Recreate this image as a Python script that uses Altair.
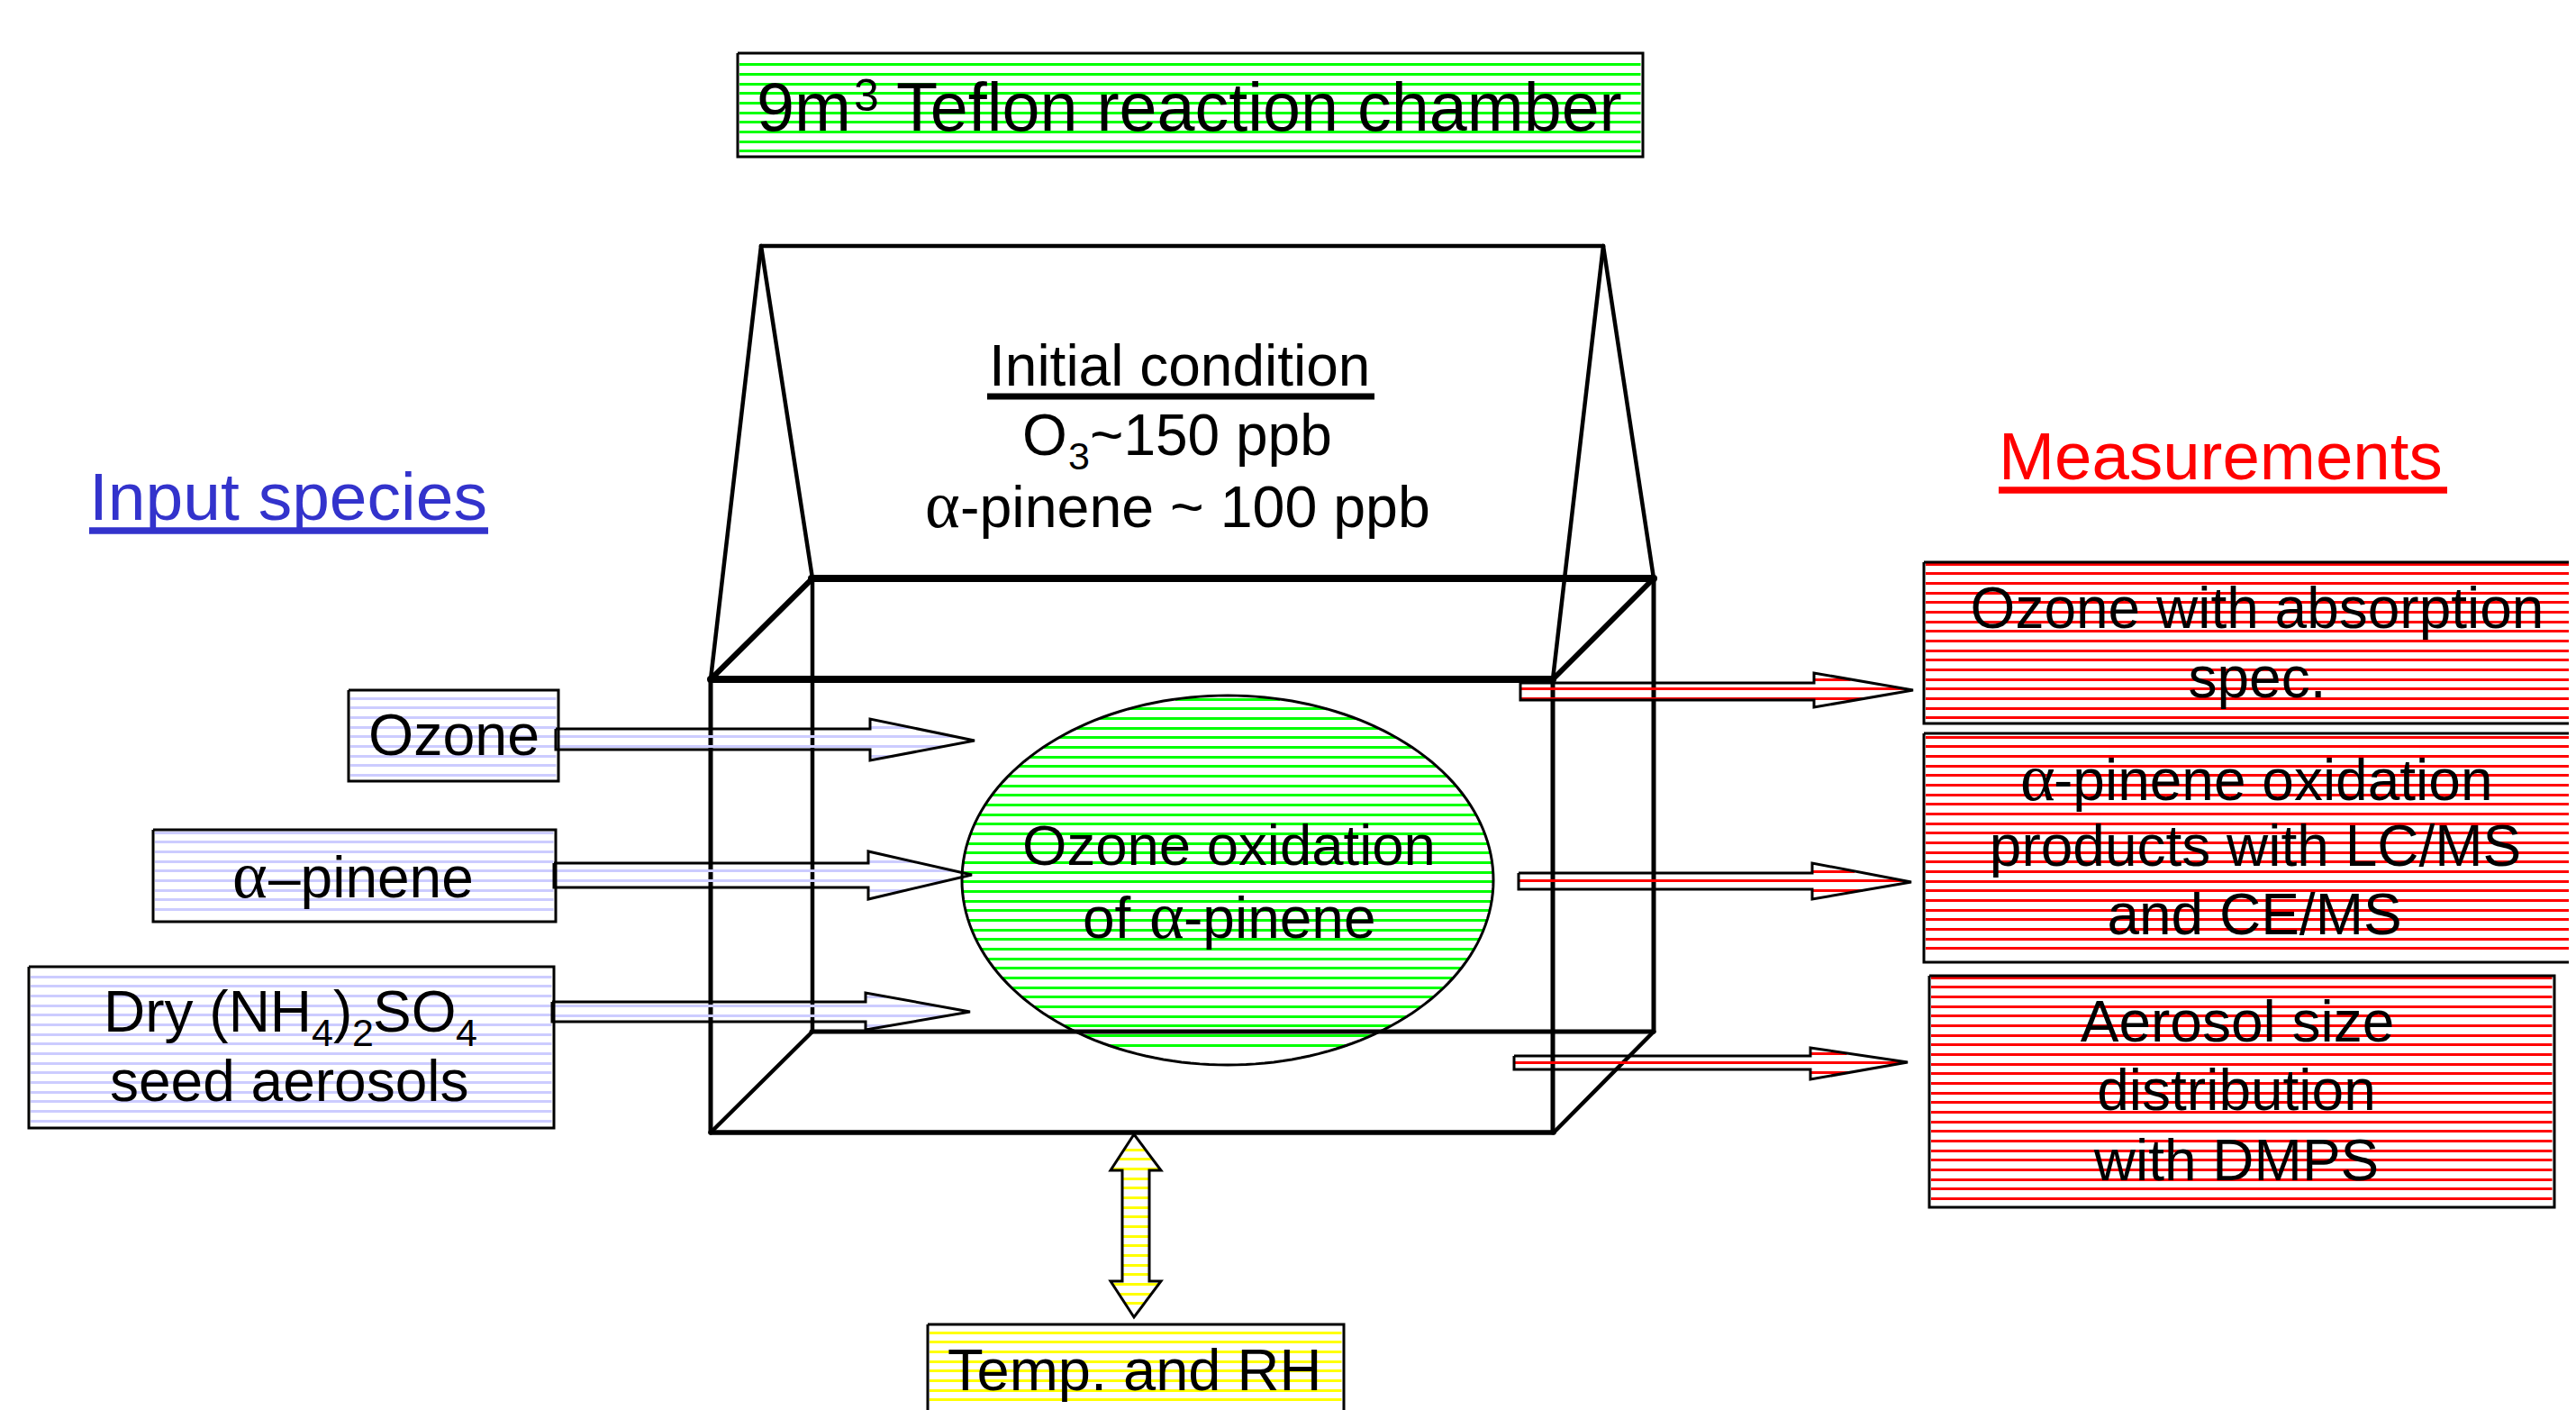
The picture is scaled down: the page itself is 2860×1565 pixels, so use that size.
import math
import altair as alt
import pandas as pd

W, H, M = 2860, 1565, 8
PITCH = 32 / 3

BLUE, GREEN, RED, YELLOW = "#CCCCFF", "#00FF00", "#FF0000", "#FFFF00"

# ---- chamber wireframe: x0, y0, x1, y1, line weight
seg_x0 = [789, 901, 901, 789, 789, 1724, 902, 1836, 789, 1724, 789, 1725, 845, 845, 845, 1780, 1780]
seg_y0 = [754, 642, 1145, 1257, 754, 754, 642, 642, 754, 754, 1257, 1257, 273, 273, 273, 273, 273]
seg_x1 = [1724, 1836, 1836, 1725, 789, 1724, 902, 1836, 902, 1836, 902, 1836, 1780, 789, 902, 1724, 1836]
seg_y1 = [754, 642, 1145, 1257, 1257, 1257, 1145, 1145, 642, 642, 1145, 1145, 273, 754, 642, 754, 642]
seg_w = [8, 8, 5, 5.5, 5, 5, 4.5, 5, 6, 6, 4.5, 4.5, 4.5, 4.5, 4.5, 4.5, 4.5]

# ---- underlines: x0, x1, y, weight
ul_x0 = [1096, 99, 2219]
ul_x1 = [1526, 542, 2717]
ul_y = [440, 589, 544]
ul_w = [7, 7.5, 7.5]
ul_color = ["black", "#3333CC", "#FF0000"]

# ---- hatched boxes: left, right, top, bottom, colour, first stripe, stripes
box_name = ["title", "ozone", "apinene", "seed", "m1", "m2", "m3", "temp"]
box_x0 = [819, 387, 170, 32, 2136, 2136, 2142, 1030]
box_x1 = [1824, 620, 617, 615, 2900, 2900, 2836, 1492]
box_y0 = [59, 766, 921, 1073, 624, 814, 1083, 1470]
box_y1 = [174, 867, 1023, 1252, 803, 1068, 1340, 1600]
box_col = [GREEN, BLUE, BLUE, BLUE, RED, RED, RED, YELLOW]
box_first = [71.7, 775, 924, 1084, 626, 818.3, 1085, 1479]
box_n = [10, 9, 9, 16, 17, 23, 24, 8]
box_w = [3, 3, 3, 3, 3, 3, 3, 3]

# ---- block arrows: tail x, head base x, tip x, shaft top/bottom, head top/bottom, tip y
arr_col = [BLUE, BLUE, BLUE, RED, RED, RED]
arr_tail = [617, 615, 613, 1688, 1686, 1681]
arr_base = [966, 964, 961, 2014, 2012, 2010]
arr_tip = [1082, 1079, 1077, 2124, 2122, 2118]
arr_st = [809, 958, 1112, 758, 969, 1172]
arr_sb = [832, 985, 1134, 777, 987, 1187]
arr_ht = [798, 945, 1102, 747, 958, 1163]
arr_hb = [844, 998, 1143, 785, 998, 1198]
arr_ty = [822, 971, 1123, 766, 979, 1179]
arr_first = [807, 956, 1106, 754, 967, 1169]
arr_n = [4, 4, 4, 3, 3, 3]

# ---- double vertical arrow
darrow_x = [1259, 1289, 1276, 1276, 1289, 1259, 1233, 1246, 1246, 1233, 1259]
darrow_y = [1259, 1299, 1299, 1422, 1422, 1462, 1422, 1422, 1299, 1299, 1259]
darrow_first, darrow_n = 1276, 17

# ---- ellipse: centre, radii, first stripe, stripes
ell_cx, ell_cy, ell_a, ell_b = 1363, 977, 295, 205
ell_first, ell_n = 776, 37

# ---- labels: x, baseline y, text, size, colour, align
sans_x = [840, 948, 995, 1098, 1135, 1186, 1210, 1066, 1135, 1202, 1314, 409, 298, 115, 346, 370, 391, 414, 506, 122,
          2506, 2506, 2280, 2504, 2503, 2484, 2483, 2483, 1052, 99, 2219]
sans_y = [145, 123, 145, 428, 505, 521, 505, 585, 960, 1041, 1041, 838, 996, 1145, 1161, 1145, 1161, 1145, 1161, 1222,
          697, 774, 888, 961, 1037, 1156, 1232, 1310, 1543, 577, 532]
sans_t = ["9m", "3", "Teflon reaction chamber", "Initial condition", "O", "3", "~150 ppb", "-pinene ~ 100 ppb",
          "Ozone oxidation", "of", "-pinene", "Ozone", "–pinene", "Dry (NH", "4", ")", "2", "SO", "4", "seed aerosols",
          "Ozone with absorption", "spec.", "-pinene oxidation", "products with LC/MS", "and CE/MS",
          "Aerosol size", "distribution", "with DMPS", "Temp. and RH", "Input species", "Measurements"]
sans_s = [75.5, 50, 75.5, 64, 64, 43, 64, 64.5, 63.5, 64, 64, 64.5, 64, 64, 43, 64, 43, 64, 43, 64,
          64, 64, 64, 64, 64, 64, 64, 64, 65, 75, 74.5]
sans_c = ["black"] * 29 + ["#3333CC", "#FF0000"]
sans_a = ["left"] * 20 + ["center"] * 2 + ["left"] + ["center"] * 5 + ["left"] * 3

alpha_x = [1027, 1276, 258, 2243]
alpha_y = [585, 1041, 996, 888]


def chord(poly_x, poly_y, y):
    hits = []
    for i in range(len(poly_x) - 1):
        y0, y1 = poly_y[i], poly_y[i + 1]
        if y0 != y1 and min(y0, y1) <= y <= max(y0, y1):
            hits.append(poly_x[i] + (y - y0) / (y1 - y0) * (poly_x[i + 1] - poly_x[i]))
    return (min(hits), max(hits)) if len(hits) >= 2 else None


outlines, stripes = [], []


def crisp(y):
    return math.floor(y) + 0.5


def add_outline(name, xs, ys, w):
    for i, (x, y) in enumerate(zip(xs, ys)):
        outlines.append({"shape": name, "i": i, "x": x, "y": y, "w": w})


for k in range(len(box_name)):
    px = [box_x0[k], box_x1[k], box_x1[k], box_x0[k], box_x0[k]]
    py = [box_y0[k], box_y0[k], box_y1[k], box_y1[k], box_y0[k]]
    add_outline(box_name[k], px, py, box_w[k])
    for j in range(box_n[k]):
        stripes.append({"x": box_x0[k] + 2, "x2": box_x1[k] - 2.5, "y": crisp(box_first[k] + j * PITCH), "c": box_col[k]})

for k in range(len(arr_col)):
    px = [arr_tail[k], arr_base[k], arr_base[k], arr_tip[k], arr_base[k], arr_base[k], arr_tail[k], arr_tail[k]]
    py = [arr_st[k], arr_st[k], arr_ht[k], arr_ty[k], arr_hb[k], arr_sb[k], arr_sb[k], arr_st[k]]
    add_outline(f"arrow{k}", px, py, 3)
    for j in range(arr_n[k]):
        y = arr_first[k] + j * PITCH
        c = chord(px, py, y)
        if c:
            stripes.append({"x": c[0], "x2": c[1], "y": crisp(y), "c": arr_col[k]})

add_outline("darrow", darrow_x, darrow_y, 3)
for j in range(darrow_n):
    y = darrow_first + j * PITCH
    c = chord(darrow_x, darrow_y, y)
    if c:
        stripes.append({"x": c[0], "x2": c[1], "y": crisp(y), "c": YELLOW})

ell_pts = [i * 2 * math.pi / 180 for i in range(181)]
add_outline("ellipse", [ell_cx + ell_a * math.cos(t) for t in ell_pts],
            [ell_cy + ell_b * math.sin(t) for t in ell_pts], 3)
for j in range(ell_n):
    y = ell_first + j * PITCH
    dx = ell_a * math.sqrt(max(0, 1 - ((y - ell_cy) / ell_b) ** 2))
    stripes.append({"x": ell_cx - dx, "x2": ell_cx + dx, "y": crisp(y), "c": GREEN})

PW, PH = W - 2 * M, H - M
xs = alt.Scale(domain=[M, M + PW], range=[0, PW], nice=False, zero=False)
ys = alt.Scale(domain=[M, M + PH], range=[0, PH], nice=False, zero=False)
X = alt.X("x:Q", scale=xs, axis=None)
Y = alt.Y("y:Q", scale=ys, axis=None)

segments = pd.DataFrame({"x": seg_x0, "y": seg_y0, "x2": seg_x1, "y2": seg_y1, "w": seg_w})
wire = alt.Chart(segments).mark_rule(strokeCap="round", color="black").encode(
    x=X, y=Y, x2="x2:Q", y2="y2:Q", strokeWidth=alt.StrokeWidth("w:Q", scale=None))

hatch = alt.Chart(pd.DataFrame(stripes)).mark_rule(strokeWidth=3).encode(
    x=X, y=Y, x2="x2:Q", color=alt.Color("c:N", scale=None))

shapes = alt.Chart(pd.DataFrame(outlines)).mark_line(color="black", strokeJoin="miter").encode(
    x=X, y=Y, detail="shape:N", order="i:Q", strokeWidth=alt.StrokeWidth("w:Q", scale=None))

underlines = pd.DataFrame({"x": ul_x0, "x2": ul_x1, "y": ul_y, "w": ul_w, "c": ul_color})
ul = alt.Chart(underlines).mark_rule().encode(
    x=X, y=Y, x2="x2:Q", strokeWidth=alt.StrokeWidth("w:Q", scale=None), color=alt.Color("c:N", scale=None))

labels = pd.DataFrame({"x": sans_x, "y": sans_y, "t": sans_t, "s": sans_s, "c": sans_c, "a": sans_a})


def text_layer(df, align, font):
    return alt.Chart(df[df.a == align]).mark_text(align=align, baseline="alphabetic", font=font).encode(
        x=X, y=Y, text="t:N", size=alt.Size("s:Q", scale=None), color=alt.Color("c:N", scale=None))


alpha_df = pd.DataFrame({"x": alpha_x, "y": alpha_y, "t": ["α"] * 4, "s": [74] * 4, "c": ["black"] * 4, "a": ["left"] * 4})

chart = alt.layer(
    wire, hatch, shapes, ul,
    text_layer(labels, "left", "Liberation Sans"),
    text_layer(labels, "center", "Liberation Sans"),
    text_layer(alpha_df, "left", "Liberation Serif"),
).properties(
    width=PW, height=PH, padding=0,
    autosize=alt.AutoSizeParams(type="none"),
).configure_view(stroke=None)

chart.save("out.html", embed_options={"renderer": "svg", "actions": False})
